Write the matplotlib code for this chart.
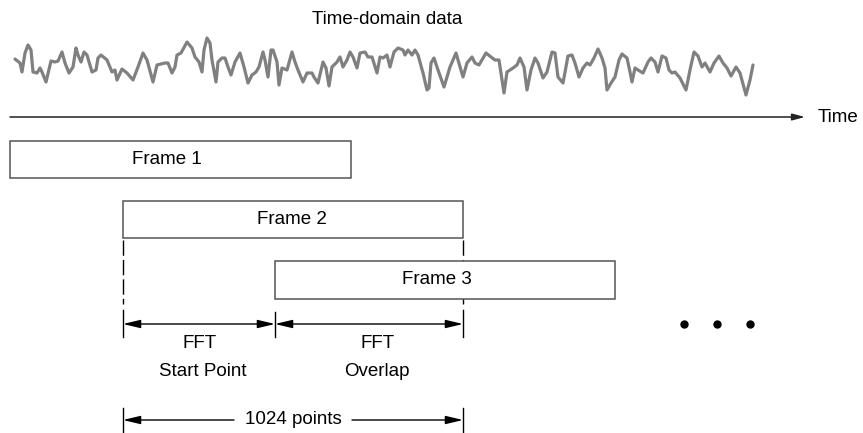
import matplotlib
matplotlib.use("Agg")
import matplotlib.pyplot as plt
from matplotlib.patches import Rectangle

plt.rcParams['font.family'] = ['Liberation Sans', 'DejaVu Sans']

# waveform samples (pixel x, pixel y)
wave_x = [15, 20, 22, 25, 28, 31, 33, 37, 40, 42, 46, 51, 55, 58, 62, 65, 69, 73, 76, 78,
          81, 84, 87, 92, 96, 98, 101, 107, 112, 115, 117, 122, 127, 133, 138, 143, 147, 153,
          157, 165, 168, 172, 175, 177, 181, 187, 192,
          195, 199, 202, 204, 207, 210, 212, 216, 218, 222, 225, 228, 231, 235, 240, 244, 248,
          252, 256, 259, 263, 265, 268, 271, 273, 277, 279, 282, 287, 292, 295, 298, 303, 307,
          312, 314, 318, 323, 326, 329, 332, 337, 340, 343, 347, 350, 353, 357, 360, 365, 368,
          372, 377,
          380, 383, 387, 390, 394, 398, 403, 405, 408, 412, 415, 418, 423, 427, 429, 431, 434,
          438, 444, 450, 456, 463, 467, 472, 475, 479, 486, 491, 495, 499, 504, 507, 513, 517,
          520, 524, 527, 531, 535, 538, 543, 547, 552, 555, 558, 563,
          568, 572, 575, 579, 583, 587, 590, 594, 598, 602, 605, 607, 611, 615, 619, 622, 627,
          630, 632, 635, 638, 643, 648, 651, 655, 658, 662, 666, 669, 672, 675, 680, 686, 690,
          694, 698, 702, 705, 710, 714, 719, 723, 727, 731, 736, 740, 746, 750, 753]
wave_y = [59, 63, 72, 53, 45, 50, 72, 73, 68, 72, 82, 61, 62, 61, 52, 63, 73, 67, 48, 55,
          62, 52, 55, 72, 70, 58, 55, 60, 72, 70, 80, 69, 73, 80, 67, 53, 60, 82,
          65, 63, 63, 73, 67, 55, 53, 42, 48,
          57, 62, 72, 50, 38, 43, 60, 82, 62, 58, 58, 67, 75, 62, 53, 67, 83,
          75, 72, 67, 52, 60, 77, 50, 50, 62, 85, 68, 70, 52, 62, 70, 82, 73,
          73, 77, 83, 62, 68, 86, 67, 62, 57, 67, 60, 52, 57, 68, 53, 52, 57,
          57, 73,
          57, 58, 55, 67, 52, 48, 50, 55, 50, 55, 50, 55, 73, 90, 88, 63, 58,
          70, 87, 67, 53, 77, 63, 57, 63, 65, 53, 57, 60, 60, 93, 72, 68, 65,
          58, 67, 90, 70, 58, 63, 78, 72, 52, 53, 77, 83,
          56, 55, 63, 77, 68, 63, 65, 58, 49, 58, 68, 90, 83, 77, 60, 54, 58,
          72, 82, 68, 70, 73, 62, 58, 62, 72, 56, 58, 70, 73, 72, 78, 90, 70,
          52, 56, 67, 63, 72, 63, 56, 63, 68, 76, 67, 73, 95, 80, 65]

frame_labels = ["Frame 1", "Frame 2", "Frame 3"]
frame_left = [10, 123, 275]
frame_right = [351, 463, 615]
frame_top = [141, 201, 261]
frame_bottom = [178, 238, 299]
frame_text_x = [167, 292, 437]

fig = plt.figure(figsize=(8.63, 4.33), dpi=100)
ax = fig.add_axes([0, 0, 1, 1])
ax.set_xlim(0, 863)
ax.set_ylim(433, 0)
ax.axis('off')

fs = 13.5

# title + waveform
ax.text(387, 20, "Time-domain data", ha='center', va='center', fontsize=fs)
ax.plot(wave_x, wave_y, color='#808080', lw=2.3, solid_joinstyle='round', solid_capstyle='round')

# time axis
ax.annotate('', xy=(805, 117), xytext=(10, 117),
            arrowprops=dict(arrowstyle='-|>,head_length=0.75,head_width=0.2', color='#222222',
                            lw=1.1, shrinkA=0, shrinkB=0, mutation_scale=10))
ax.text(818, 118, "Time", ha='left', va='center', fontsize=fs)

# dashed guides at frame 2 edges (frame 3 hides part of the right one)
for gx in [frame_left[1], frame_right[1]]:
    ax.plot([gx, gx], [240, 304], color='k', lw=1, ls=(0, (11, 3)), zorder=1)
    ax.plot([gx, gx], [310, 337], color='k', lw=1, zorder=1)
ax.plot([275, 275], [312, 337], color='k', lw=1)

# frames
for i in range(len(frame_labels)):
    ax.add_patch(Rectangle((frame_left[i], frame_top[i]), frame_right[i] - frame_left[i],
                           frame_bottom[i] - frame_top[i], facecolor='white',
                           edgecolor='#555555', lw=1.1, zorder=2))
    ax.text(frame_text_x[i], (frame_top[i] + frame_bottom[i]) / 2, frame_labels[i],
            ha='center', va='center', fontsize=fs, zorder=3)

# FFT arrows
astyle = '<|-|>,head_length=1.05,head_width=0.25'
for x1, x2 in [(123, 275), (275, 463)]:
    ax.annotate('', xy=(x2, 324), xytext=(x1, 324),
                arrowprops=dict(arrowstyle=astyle, color='k', lw=1,
                                shrinkA=0, shrinkB=0, mutation_scale=10))
ax.text(200, 344, "FFT", ha='center', va='center', fontsize=fs)
ax.text(203, 371, "Start Point", ha='center', va='center', fontsize=fs)
ax.text(378, 344, "FFT", ha='center', va='center', fontsize=fs)
ax.text(377, 371, "Overlap", ha='center', va='center', fontsize=fs)

# 1024 points
ax.plot([123, 123], [408, 433], color='k', lw=1)
ax.plot([463, 463], [408, 433], color='k', lw=1)
ax.annotate('', xy=(123, 420), xytext=(234, 420),
            arrowprops=dict(arrowstyle='-|>,head_length=1.05,head_width=0.25', color='k', lw=1,
                            shrinkA=0, shrinkB=0, mutation_scale=10))
ax.annotate('', xy=(463, 420), xytext=(352, 420),
            arrowprops=dict(arrowstyle='-|>,head_length=1.05,head_width=0.25', color='k', lw=1,
                            shrinkA=0, shrinkB=0, mutation_scale=10))
ax.text(293, 419, "1024 points", ha='center', va='center', fontsize=fs)

# ellipsis dots
ax.plot([684, 717, 750], [324, 324, 324], 'o', color='k', ms=5)

fig.savefig("out.png", dpi=100)
